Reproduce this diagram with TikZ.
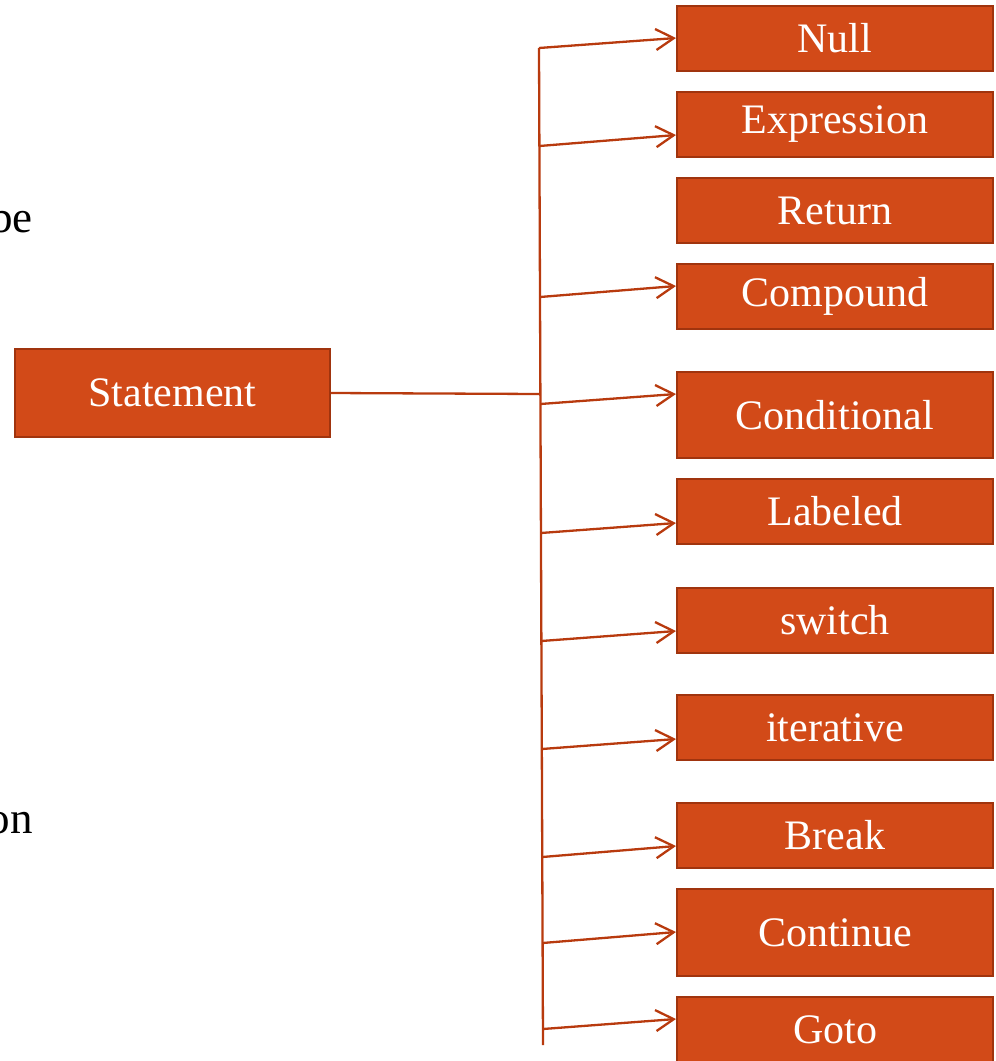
\documentclass[tikz,border=0pt]{standalone}
\usepackage{fontspec}
\setmainfont{Liberation Serif}
\usetikzlibrary{arrows.meta}
\definecolor{boxfill}{RGB}{210,74,24}
\definecolor{boxline}{RGB}{160,52,14}
\definecolor{linkcol}{RGB}{184,58,14}
\tikzset{
  stmtbox/.style={draw=boxline, fill=boxfill, line width=2pt, text=white,
    minimum width=316pt, inner sep=0pt, font=\fontsize{42}{48}\selectfont},
  rootbox/.style={stmtbox, minimum width=315pt, minimum height=88pt},
  link/.style={draw=linkcol, line width=2.3pt},
  arr/.style={link, -{Straight Barb[length=18pt,width=21pt,line width=2.3pt]}},
  sidetext/.style={font=\fontsize{45}{50}\selectfont, inner sep=0pt, anchor=base east}
}
\begin{document}
\begin{tikzpicture}[x=1pt,y=-1pt]
\useasboundingbox (0,0) rectangle (996,1061);
% left fragments
\node[sidetext] (frag1) at (33,232) {be};
\node[sidetext] (frag2) at (33,833) {on};
% root
\node[rootbox] (stmt) at (172.5,393) {Statement};
% boxes
\node[stmtbox, minimum height=65pt] (null) at (835,38.5) {Null};
\node[stmtbox, minimum height=65pt] (expr) at (835,124.5) {Expression};
\node[stmtbox, minimum height=65pt] (ret) at (835,210.5) {Return};
\node[stmtbox, minimum height=65pt] (comp) at (835,296.5) {Compound};
\node[stmtbox, minimum height=86pt] (cond) at (835,415) {Conditional};
\node[stmtbox, minimum height=65pt] (lab) at (835,511.5) {Labeled};
\node[stmtbox, minimum height=65pt] (sw) at (835,620) {switch};
\node[stmtbox, minimum height=65pt] (iter) at (835,727.5) {iterative};
\node[stmtbox, minimum height=65pt] (brk) at (835,835.5) {Break};
\node[stmtbox, minimum height=87pt] (cont) at (835,932.5) {Continue};
\node[stmtbox, minimum height=65pt] (gto) at (835,1029.5) {Goto};
% trunk
\coordinate (ttop) at (539,48);
\coordinate (tbot) at (543,1045);
\coordinate (tmid) at (540.3,394);
\coordinate (b1) at (539,48);
\coordinate (b2) at (539.4,146);
\coordinate (b3) at (540,297);
\coordinate (b4) at (540.4,404);
\coordinate (b5) at (540.9,533);
\coordinate (b6) at (541.4,641);
\coordinate (b7) at (541.8,749);
\coordinate (b8) at (542.2,857);
\coordinate (b9) at (542.6,943);
\coordinate (b10) at (542.9,1029);
\draw[link] (ttop) -- (tbot);
\draw[link] (stmt.east) -- (tmid);
\draw[arr] (b1) -- ([yshift=0.5pt]null.west);
\draw[arr] (b2) -- ([yshift=-10.5pt]expr.west);
\draw[arr] (b3) -- ([yshift=10.5pt]comp.west);
\draw[arr] (b4) -- ([yshift=21pt]cond.west);
\draw[arr] (b5) -- ([yshift=-11.5pt]lab.west);
\draw[arr] (b6) -- ([yshift=-11pt]sw.west);
\draw[arr] (b7) -- ([yshift=-11.5pt]iter.west);
\draw[arr] (b8) -- ([yshift=-10.5pt]brk.west);
\draw[arr] (b9) -- ([yshift=0.5pt]cont.west);
\draw[arr] (b10) -- ([yshift=10.5pt]gto.west);
\end{tikzpicture}
\end{document}
